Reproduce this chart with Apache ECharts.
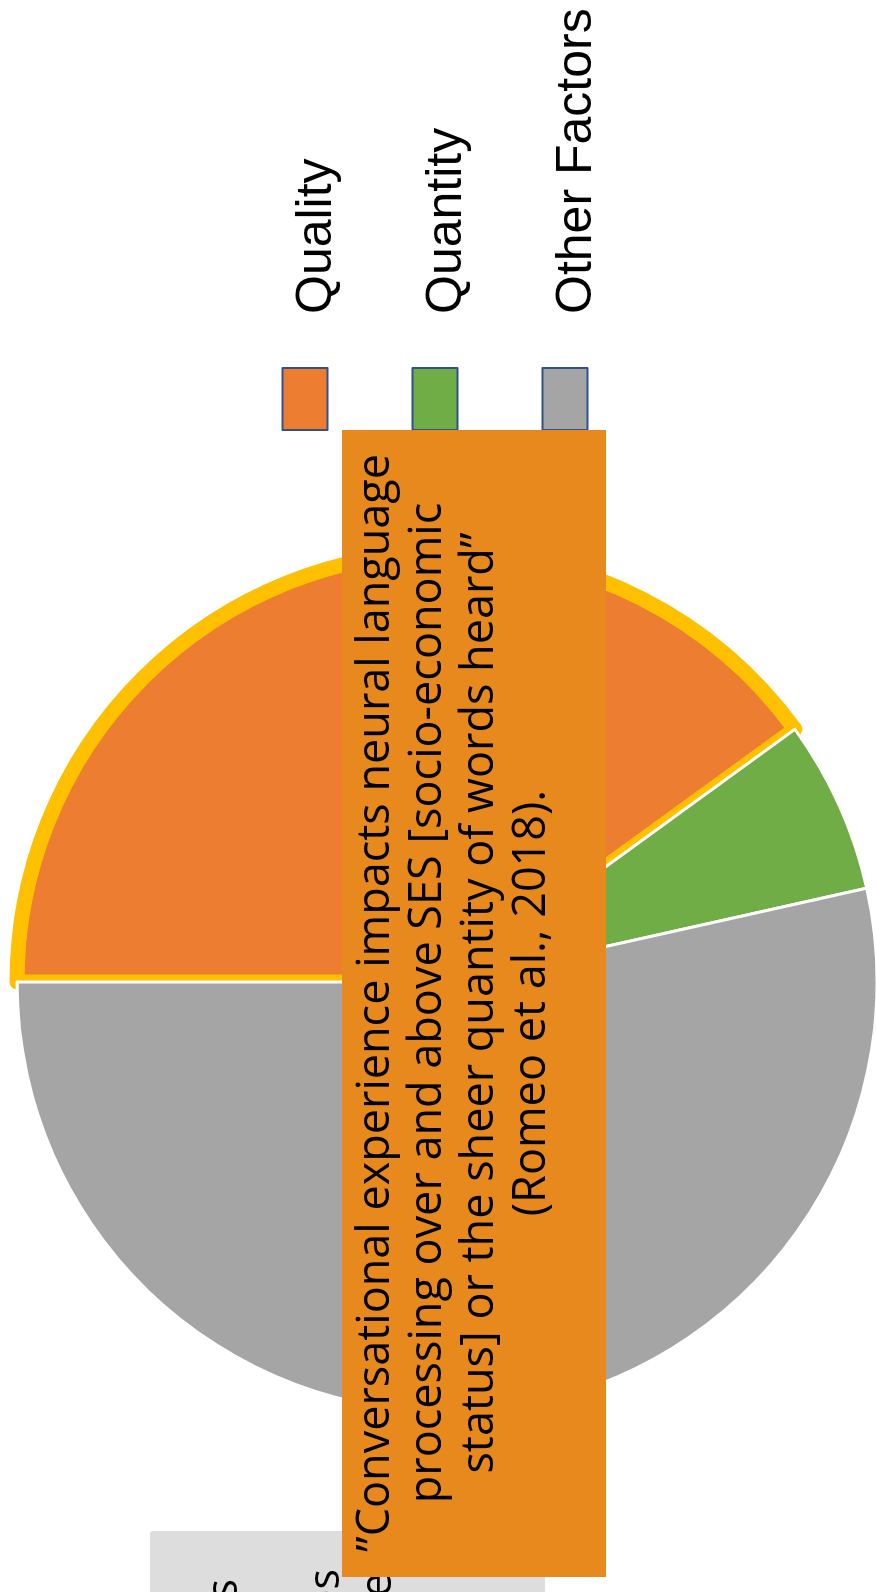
<!DOCTYPE html>
<html>
<head>
<meta charset="utf-8">
<script src="https://cdn.jsdelivr.net/npm/echarts@6/dist/echarts.min.js"></script>
<style>
html,body{margin:0;padding:0;overflow:hidden;background:#ffffff;width:876px;height:1592px;}
#chart{position:absolute;left:0;top:0;width:1592px;height:876px;transform-origin:0 0;transform:translateY(1592px) rotate(-90deg);}
</style>
</head>
<body>
<div id="chart"></div>
<script>
// ---- data ----
const categories = ['Quality', 'Quantity', 'Other Factors'];
const values = [40, 6.5, 53.5];
const quoteLines = [
  '\u201dConversational experience impacts neural language',
  'processing over and above SES [socio-economic',
  'status] or the sheer quantity of words heard\u201d',
  '(Romeo et al., 2018).'
];
const boxFragments = ['s', 'es', 'e'];

// ---- styles ----
const sliceColors = ['#ED7D31', '#70AD47', '#A5A5A5'];
const fragBaselines = [241, 343, 395];
const fragRight = [13, 23, 19];

const chart = echarts.init(document.getElementById('chart'), null, {renderer: 'canvas'});

const pieData = categories.map((name, i) => ({
  name: name,
  value: values[i],
  itemStyle: {
    color: sliceColors[i],
    borderColor: i === 0 ? '#FFC000' : '#FFFFFF',
    borderWidth: i === 0 ? 15 : 3,
    borderJoin: 'round'
  }
}));

const fragFont = 43;
const fragMid = 0.388 * fragFont;
const fragmentEls = boxFragments.map((t, i) => ({
  type: 'text',
  x: fragRight[i],
  y: fragBaselines[i] - fragMid,
  z: 60,
  silent: true,
  style: {
    text: t,
    fill: '#000000',
    fontSize: fragFont,
    fontFamily: '"Open Sans"',
    align: 'right', textAlign: 'right',
    verticalAlign: 'middle', textVerticalAlign: 'middle'
  }
}));

const option = {
  animation: false,
  backgroundColor: '#ffffff',
  legend: {
    orient: 'vertical',
    left: 1156,
    top: 263,
    itemWidth: 62,
    itemHeight: 45,
    itemGap: 56,
    icon: 'rect',
    selectedMode: false,
    itemStyle: {borderColor: '#2F528F', borderWidth: 2},
    formatter: function (name) { return '{t|' + name + '}'; },
    textStyle: {
      fontFamily: '"Liberation Sans", Arial, sans-serif',
      fontSize: 50,
      color: '#000000',
      rich: {
        t: {
          fontFamily: '"Liberation Sans", Arial, sans-serif',
          fontSize: 50,
          color: '#000000',
          lineHeight: 45,
          padding: [24, 0, 0, 49]
        }
      }
    },
    data: categories
  },
  graphic: {
    elements: [
      {
        type: 'rect', z: 50, silent: true,
        shape: {x: -10, y: 150, width: 71, height: 395, r: 3},
        style: {fill: '#DDDDDD'}
      }
    ].concat(fragmentEls).concat([
      {
        type: 'rect', z: 100, silent: true,
        shape: {x: 15, y: 342, width: 1147, height: 264},
        style: {fill: '#E8891E'}
      },
      {
        type: 'text', z: 101, silent: true,
        x: 589, y: 350,
        style: {
          text: quoteLines.join('\n'),
          fill: '#000000',
          fontSize: 45,
          fontFamily: '"Open Sans"',
          lineHeight: 52,
          align: 'center', textAlign: 'center',
          verticalAlign: 'top', textVerticalAlign: 'top'
        }
      }
    ])
  },
  series: [{
    type: 'pie',
    center: [610, 447],
    radius: 430,
    startAngle: 90,
    clockwise: true,
    silent: true,
    label: {show: false},
    labelLine: {show: false},
    emphasis: {disabled: true},
    data: pieData
  }]
};
chart.setOption(option);
</script>
</body>
</html>
